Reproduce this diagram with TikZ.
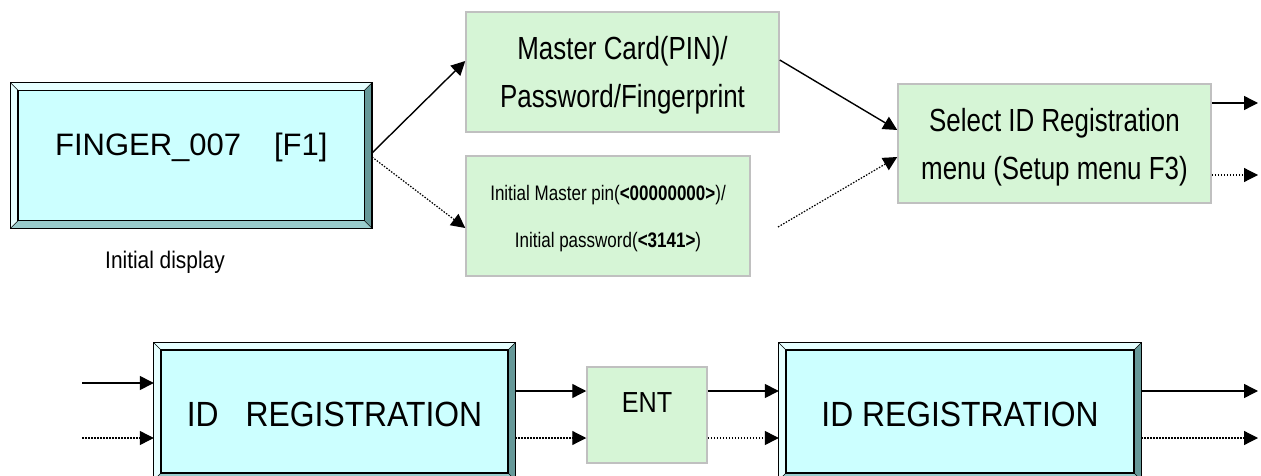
\documentclass[tikz,border=0pt]{standalone}
\usepackage{fontspec}
\setmainfont{Liberation Sans}
\newfontfamily\fcond{Liberation Sans}[FakeStretch=0.81]
\newfontfamily\fmid{Liberation Sans}[FakeStretch=0.87]
\newfontfamily\fwide{Liberation Sans}[FakeStretch=0.91]
\usetikzlibrary{arrows.meta,calc}
\definecolor{cyanface}{HTML}{CCFFFF}
\definecolor{bevlight}{HTML}{E6FFFF}
\definecolor{bevdark}{HTML}{669999}
\definecolor{bevmid}{HTML}{99CCCC}
\definecolor{greenfill}{HTML}{D6F5D6}
\definecolor{greenedge}{HTML}{C0C0C0}
\tikzset{
  bevelbox/.style={fill=cyanface, inner sep=0pt, rectangle},
  greenbox/.style={fill=greenfill, draw=greenedge, line width=1.5pt, inner sep=0pt, align=center},
  arr/.style={line width=1.4pt, -{Triangle[length=14pt,width=14pt]}},
  darr/.style={line width=1.2pt, dash pattern=on 1.5pt off 1.5pt, -{Triangle[length=14pt,width=14pt]}}
}
\newcommand\bevelize[2]{%
  \fill[bevlight] (#1.north west) -- (#1.north east) -- ($(#1.north east)+(-#2,#2)$) -- ($(#1.north west)+(#2,#2)$) -- cycle;
  \fill[bevlight] (#1.north west) -- (#1.south west) -- ($(#1.south west)+(#2,-#2)$) -- ($(#1.north west)+(#2,#2)$) -- cycle;
  \fill[bevdark] (#1.north east) -- (#1.south east) -- ($(#1.south east)+(-#2,-#2)$) -- ($(#1.north east)+(-#2,#2)$) -- cycle;
  \fill[bevmid] (#1.south west) -- (#1.south east) -- ($(#1.south east)+(-#2,-#2)$) -- ($(#1.south west)+(#2,-#2)$) -- cycle;
  \draw[line width=0.6pt] (#1.north west) -- ($(#1.north west)+(#2,#2)$) (#1.north east) -- ($(#1.north east)+(-#2,#2)$)
    (#1.south west) -- ($(#1.south west)+(#2,-#2)$) (#1.south east) -- ($(#1.south east)+(-#2,-#2)$);
  \draw[line width=1.2pt] (#1.north west) rectangle (#1.south east);
  \draw[line width=1.5pt] ($(#1.north west)+(#2,#2)$) rectangle ($(#1.south east)+(-#2,-#2)$);
}
\begin{document}
\begin{tikzpicture}[x=1pt,y=-1pt]
\useasboundingbox (0,0) rectangle (1261,476);
\clip (0,0) rectangle (1261,476);

% top row
\node[bevelbox, minimum width=361pt, minimum height=145pt, text height=23pt, text depth=22pt,
  font=\fontsize{31pt}{31pt}\selectfont] (fing) at (191.3,155.5) {FINGER\_007\hspace{33pt}[F1]};
\bevelize{fing}{7.5}
\node[inner sep=0pt, font=\fmid\fontsize{24pt}{24pt}\selectfont] (initdisp) at (165,262) {Initial display};

\node[greenbox, minimum width=313pt, minimum height=120pt, text height=71pt, text depth=0pt,
  font=\fcond\fontsize{32pt}{48pt}\selectfont] (master) at (622.5,72) {Master Card(PIN)/\\Password/Fingerprint};
\node[greenbox, minimum width=284pt, minimum height=120pt, text height=62pt, text depth=0pt,
  font=\fcond\fontsize{21pt}{47pt}\selectfont] (init) at (608,216) {Initial Master pin(\textbf{<00000000>})/\\Initial password(\textbf{<3141>})};
\node[greenbox, minimum width=313pt, minimum height=119pt, text height=71pt, text depth=0pt,
  font=\fcond\fontsize{32pt}{48pt}\selectfont] (select) at (1054.5,143.5) {Select ID Registration\\menu (Setup menu F3)};

\draw[arr] ([yshift=2.5pt]fing.east) -- ([yshift=11pt]master.west);
\draw[darr] ([yshift=-1.5pt]fing.east) -- ([yshift=-12pt]init.west);
\draw[arr] ([yshift=12pt]master.east) -- ([yshift=13.5pt]select.west);
\coordinate (dstart) at (778,227);
\draw[darr] (dstart) -- ([yshift=-13.5pt]select.west);
\coordinate (out1) at (1258,103);
\coordinate (out2) at (1258,175);
\draw[arr] (select.east |- out1) -- (out1);
\draw[darr] (select.east |- out2) -- (out2);

% bottom row
\node[bevelbox, minimum width=361pt, minimum height=137pt, text height=30pt, text depth=0pt,
  font=\fwide\fontsize{35pt}{35pt}\selectfont] (reg1) at (334.5,411.5) {ID\hspace{27pt}REGISTRATION};
\bevelize{reg1}{7}
\node[greenbox, minimum width=120pt, minimum height=96pt, text height=21pt, text depth=26pt,
  font=\fmid\fontsize{29pt}{29pt}\selectfont] (ent) at (647,415) {ENT};
\node[bevelbox, minimum width=362pt, minimum height=137pt, text height=30pt, text depth=0pt,
  font=\fwide\fontsize{35pt}{35pt}\selectfont] (reg2) at (960,411.5) {ID REGISTRATION};
\bevelize{reg2}{7}

\coordinate (in1) at (82,383);
\coordinate (in2) at (82,438);
\draw[arr] (in1) -- (reg1.west |- in1);
\draw[darr] (in2) -- (reg1.west |- in2);
\draw[arr] ([yshift=20.5pt]reg1.east) -- ([yshift=24pt]ent.west);
\draw[darr] ([yshift=-26.5pt]reg1.east) -- ([yshift=-23pt]ent.west);
\draw[arr] ([yshift=24pt]ent.east) -- ([yshift=20.5pt]reg2.west);
\draw[darr] ([yshift=-23pt]ent.east) -- ([yshift=-26.5pt]reg2.west);
\coordinate (o1) at (1258,391);
\coordinate (o2) at (1258,438);
\draw[arr] (reg2.east |- o1) -- (o1);
\draw[darr] (reg2.east |- o2) -- (o2);
\end{tikzpicture}
\end{document}
